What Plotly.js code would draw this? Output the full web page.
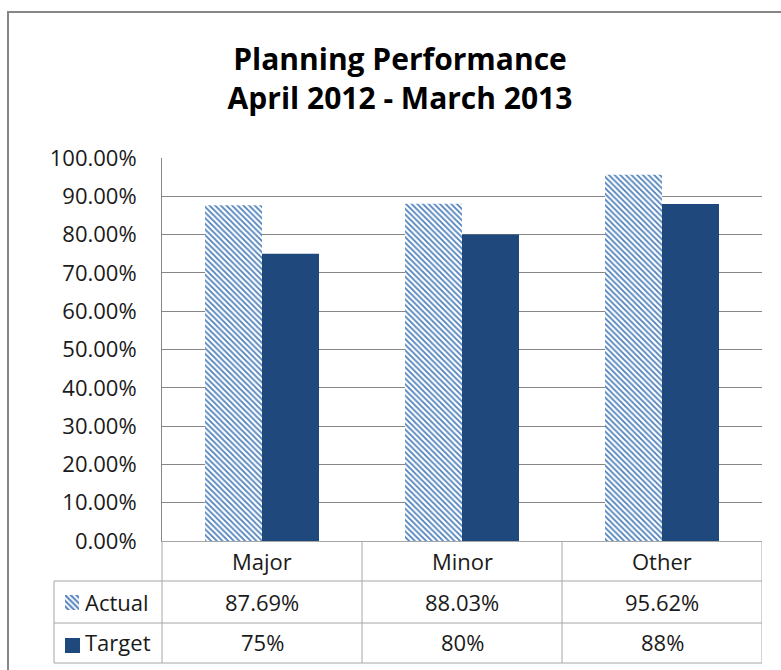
<!DOCTYPE html>
<html>
<head>
<meta charset="utf-8">
<script src="https://cdn.plot.ly/plotly-3.0.1.min.js"></script>
<style>html,body{margin:0;padding:0;background:#fff;}#chart{width:781px;height:670px;}</style>
</head>
<body>
<div id="chart"></div>
<script>
// ---- data ----
const categories = ["Major", "Minor", "Other"];
const seriesNames = ["Actual", "Target"];
const actual = [0.8769, 0.8803, 0.9562];
const target = [0.75, 0.80, 0.88];
const actualLabels = ["87.69%", "88.03%", "95.62%"];
const targetLabels = ["75%", "80%", "88%"];
const yTickVals = [0, 0.1, 0.2, 0.3, 0.4, 0.5, 0.6, 0.7, 0.8, 0.9, 1.0];

// ---- geometry helpers (pixel -> paper) ----
const W = 781, H = 670;
const px = v => v / W;
const py = v => 1 - v / H;

const FONT = "Open Sans, Liberation Sans, sans-serif";
const lightBlue = "#4F81BD";
const darkBlue = "#1F497D";
const gridCol = "#868686";
const tableCol = "#A6A6A6";

const actualPattern = {shape: "\\", fgcolor: lightBlue, bgcolor: "#ffffff", size: 4, solidity: 0.45};

const traces = [
  {type: "bar", name: seriesNames[0], x: categories, y: actual,
   marker: {color: "#ffffff", pattern: actualPattern, line: {width: 0}},
   xaxis: "x", yaxis: "y", hoverinfo: "skip"},
  {type: "bar", name: seriesNames[1], x: categories, y: target,
   marker: {color: darkBlue, line: {width: 0}},
   xaxis: "x", yaxis: "y", hoverinfo: "skip"},
  // legend keys in the data table
  {type: "bar", x: [0], y: [1], width: [1], marker: {color: "#ffffff", pattern: {shape: "\\", fgcolor: lightBlue, bgcolor: "#ffffff", size: 4, solidity: 0.5}, line: {width: 0}},
   xaxis: "x2", yaxis: "y2", hoverinfo: "skip"},
  {type: "bar", x: [0], y: [1], width: [1], marker: {color: darkBlue, line: {width: 0}},
   xaxis: "x3", yaxis: "y3", hoverinfo: "skip"}
];

const shapes = [];
function hline(y, x0, x1) { shapes.push({type: "line", xref: "paper", yref: "paper", x0: px(x0), x1: px(x1), y0: py(y), y1: py(y), line: {color: tableCol, width: 1}}); }
function vlinePaper(x, y0, y1) { shapes.push({type: "line", xref: "paper", yref: "paper", x0: px(x), x1: px(x), y0: py(y0), y1: py(y1), line: {color: tableCol, width: 1}}); }
function vlineData(x, y0, y1) { shapes.push({type: "line", xref: "x", yref: "paper", x0: x, x1: x, y0: py(y0), y1: py(y1), line: {color: tableCol, width: 1}}); }

hline(581, 54, 762);
hline(623, 54, 762);
hline(663, 54, 762);
vlinePaper(54, 581, 663);
vlinePaper(162, 541, 663);
for (let i = 0; i < categories.length; i++) vlineData(i + 0.5, 541, 663);
// outer chart frame
shapes.push({type: "rect", xref: "paper", yref: "paper", x0: px(8), x1: px(800), y0: py(12), y1: py(690), line: {color: gridCol, width: 2}, fillcolor: "rgba(0,0,0,0)"});

const annotations = [];
const tFont = {family: FONT, size: 22, color: "#1a1a1a"};
categories.forEach((c, i) => {
  annotations.push({xref: "x", yref: "paper", x: i, y: py(561), text: c, showarrow: false, font: tFont, xanchor: "center", yanchor: "middle"});
  annotations.push({xref: "x", yref: "paper", x: i, y: py(602), text: actualLabels[i], showarrow: false, font: tFont, xanchor: "center", yanchor: "middle"});
  annotations.push({xref: "x", yref: "paper", x: i, y: py(642), text: targetLabels[i], showarrow: false, font: tFont, xanchor: "center", yanchor: "middle"});
});
annotations.push({xref: "paper", yref: "paper", x: px(83), y: py(602), text: seriesNames[0], showarrow: false, font: tFont, xanchor: "left", yanchor: "middle"});
annotations.push({xref: "paper", yref: "paper", x: px(83), y: py(642), text: seriesNames[1], showarrow: false, font: tFont, xanchor: "left", yanchor: "middle"});

const hiddenAxis = {showgrid: false, zeroline: false, showticklabels: false, showline: false, ticks: "", fixedrange: true};

const layout = {
  width: W, height: H,
  margin: {l: 0, r: 0, t: 0, b: 0, pad: 0},
  paper_bgcolor: "#ffffff", plot_bgcolor: "rgba(0,0,0,0)",
  showlegend: false,
  barmode: "group", bargap: 0.43, bargroupgap: 0,
  title: {text: "Planning Performance<br>April 2012 - March 2013", font: {family: FONT, size: 30, color: "#000000", weight: "bold"},
          x: px(400), xref: "container", xanchor: "center", y: py(70), yref: "container", yanchor: "top"},
  xaxis: {domain: [px(162), px(762)], range: [-0.5, 2.5], type: "category", showticklabels: false, ticks: "",
          showgrid: false, zeroline: false, showline: true, linecolor: tableCol, linewidth: 1, fixedrange: true},
  yaxis: {domain: [py(541), py(158)], range: [0, 1], tickvals: yTickVals, tickformat: ".2%",
          showgrid: true, gridcolor: gridCol, gridwidth: 1, zeroline: false, showline: true, linecolor: gridCol, linewidth: 1,
          ticks: "", ticklabelstandoff: 20, tickfont: {family: FONT, size: 22, color: "#1a1a1a"}, fixedrange: true},
  xaxis2: Object.assign({domain: [px(65), px(79)], range: [-0.5, 0.5], anchor: "y2"}, hiddenAxis),
  yaxis2: Object.assign({domain: [py(610), py(595)], range: [0, 1], anchor: "x2"}, hiddenAxis),
  xaxis3: Object.assign({domain: [px(65), px(80)], range: [-0.5, 0.5], anchor: "y3"}, hiddenAxis),
  yaxis3: Object.assign({domain: [py(653), py(638)], range: [0, 1], anchor: "x3"}, hiddenAxis),
  shapes: shapes,
  annotations: annotations
};

Plotly.newPlot("chart", traces, layout, {staticPlot: true, displayModeBar: false});
</script>
</body>
</html>
